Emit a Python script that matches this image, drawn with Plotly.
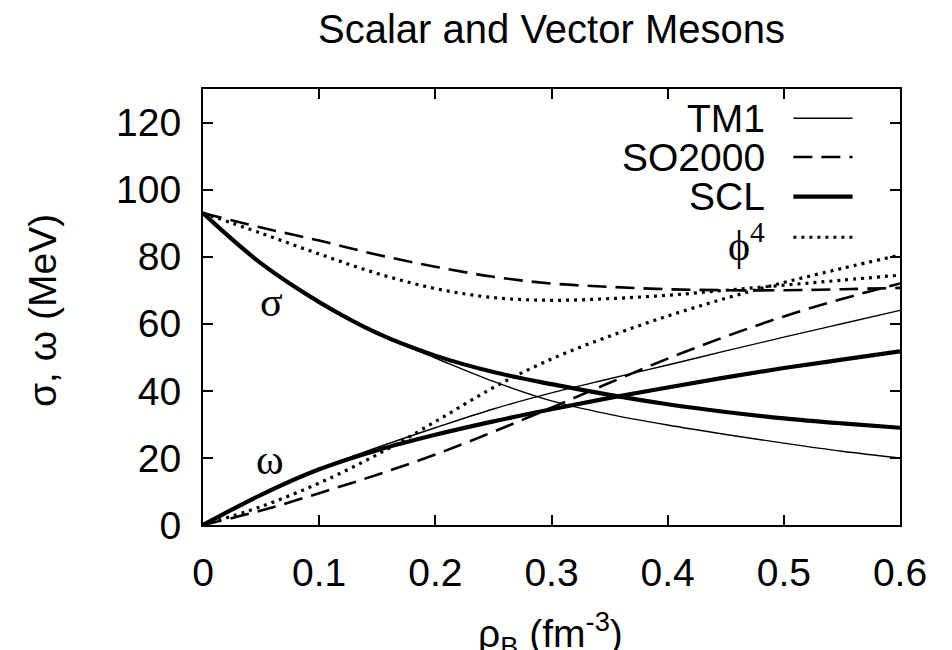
import plotly.graph_objects as go

# Baryon density grid (fm^-3)
rho_b = [0.0, 0.05, 0.10, 0.15, 0.20, 0.25, 0.30, 0.35, 0.40, 0.45, 0.50, 0.55, 0.60]

# Scalar (sigma) mean field, MeV
sigma_tm1 = [93.0, 78.0, 66.0, 57.0, 49.8, 42.8, 37.0, 33.0, 29.8, 27.0, 24.4, 22.0, 20.0]
sigma_so2000 = [93.0, 88.7, 84.8, 80.6, 77.0, 74.0, 72.0, 71.0, 70.3, 70.0, 70.0, 70.3, 70.7]
sigma_scl = [93.0, 78.0, 66.5, 57.2, 50.5, 45.6, 42.0, 38.8, 36.0, 33.7, 31.8, 30.3, 29.0]
sigma_phi4 = [93.0, 87.0, 80.8, 75.0, 70.5, 67.8, 67.0, 67.5, 68.5, 70.0, 71.5, 73.0, 74.5]

# Vector (omega) mean field, MeV
omega_tm1 = [0.0, 9.0, 16.7, 23.1, 29.0, 34.6, 39.4, 43.6, 47.7, 51.9, 56.0, 60.0, 64.0]
omega_so2000 = [0.0, 4.3, 9.5, 15.0, 21.0, 27.8, 35.0, 42.4, 49.6, 56.2, 62.2, 67.4, 72.0]
omega_scl = [0.0, 9.0, 16.6, 22.3, 26.9, 30.9, 34.5, 37.9, 41.0, 44.0, 46.8, 49.3, 51.8]
omega_phi4 = [0.0, 5.5, 12.5, 21.0, 30.8, 41.0, 49.5, 56.3, 62.3, 67.6, 72.3, 76.5, 80.5]

x_ticks = [0, 0.1, 0.2, 0.3, 0.4, 0.5, 0.6]
x_tick_text = ["0", "0.1", "0.2", "0.3", "0.4", "0.5", "0.6"]
y_ticks = [0, 20, 40, 60, 80, 100, 120]

models = ["TM1", "SO2000", "SCL", "ϕ<sup>4</sup>"]
styles = {
    "TM1": dict(width=1.4, dash="solid"),
    "SO2000": dict(width=2.6, dash="19px,9px"),
    "SCL": dict(width=4.2, dash="solid"),
    "ϕ<sup>4</sup>": dict(width=3.2, dash="3px,5px"),
}
sigma_sets = [sigma_tm1, sigma_so2000, sigma_scl, sigma_phi4]
omega_sets = [omega_tm1, omega_so2000, omega_scl, omega_phi4]

SANS = "Liberation Sans, Arial, Helvetica, sans-serif"
SERIF = "Liberation Serif, Times New Roman, serif"
FS = 39

fig = go.Figure()
for name, sig, om in zip(models, sigma_sets, omega_sets):
    st = styles[name]
    for ys in (sig, om):
        fig.add_trace(go.Scatter(
            x=rho_b, y=ys, mode="lines", name=name, showlegend=False,
            line=dict(color="black", width=st["width"], dash=st["dash"],
                      shape="spline", smoothing=1.0),
        ))

axis_common = dict(
    showgrid=False, zeroline=False, showline=True, linecolor="black",
    linewidth=2, mirror="allticks", ticks="inside", ticklen=10,
    tickwidth=1.5, tickcolor="black",
    tickfont=dict(family=SANS, size=FS, color="black"),
)

fig.update_xaxes(range=[0, 0.6], tickvals=x_ticks, ticktext=x_tick_text,
                 ticklabelstandoff=12, **axis_common)
fig.update_yaxes(range=[0, 130], tickvals=y_ticks, ticklabelstandoff=12, **axis_common)

# Legend drawn as text on the left of each line sample
legend_rows_y = [0.933, 0.844, 0.753, 0.660]
annotations = []
shapes = []
for name, yy in zip(models, legend_rows_y):
    st = styles[name]
    is_phi = name.startswith("ϕ")
    annotations.append(dict(
        text=name, xref="paper", yref="paper", x=0.809, y=yy,
        xanchor="right", yanchor="middle", showarrow=False,
        font=dict(family=SERIF if is_phi else SANS, size=FS + (3 if is_phi else 0), color="black"),
        yshift=-5 if is_phi else 0,
    ))
    shapes.append(dict(
        type="line", xref="paper", yref="paper", x0=0.847, x1=0.932, y0=yy, y1=yy,
        line=dict(color="black", width=st["width"], dash=st["dash"]),
    ))

# Field labels next to the curves
annotations.append(dict(text="σ", x=0.059, y=66.5, xref="x", yref="y", showarrow=False,
                        font=dict(family=SERIF, size=FS + 3, color="black")))
annotations.append(dict(text="ω", x=0.058, y=19.5, xref="x", yref="y", showarrow=False,
                        font=dict(family=SERIF, size=FS + 3, color="black")))

# Axis titles
annotations.append(dict(text="σ, ω (MeV)", xref="paper", yref="paper", x=-0.231, y=0.493,
                        textangle=-90, showarrow=False, xanchor="center", yanchor="middle",
                        font=dict(family=SANS, size=FS, color="black")))
annotations.append(dict(text="ρ<sub>B</sub> (fm<sup>-3</sup>)", xref="paper", yref="paper",
                        x=0.499, y=-0.249, showarrow=False, xanchor="center", yanchor="middle",
                        font=dict(family=SANS, size=FS, color="black")))

fig.update_layout(
    width=952, height=650,
    margin=dict(l=203, r=52, t=89, b=125),
    paper_bgcolor="white", plot_bgcolor="white",
    title=dict(text="Scalar and Vector Mesons", x=0.5, xref="paper", xanchor="center",
               y=0.955, yref="container", yanchor="middle",
               font=dict(family=SANS, size=FS + 1, color="black")),
    annotations=annotations, shapes=shapes,
    showlegend=False,
)

fig.write_html("out.html")
